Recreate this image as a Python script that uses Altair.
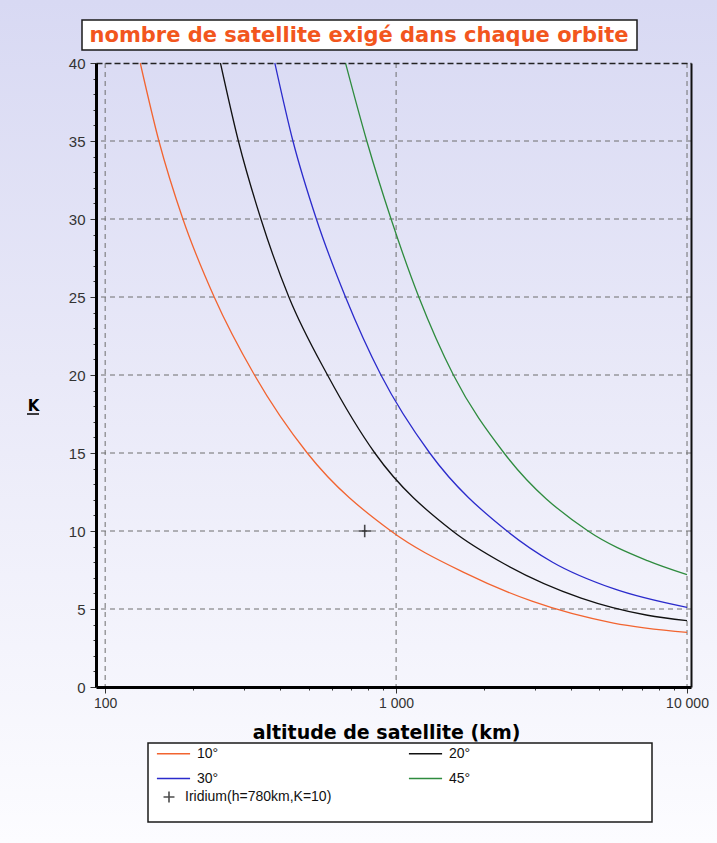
import altair as alt
import pandas as pd

# ---- data ----
series_labels = ["10°", "20°", "30°", "45°"]
series_colors = ["#f26430", "#111111", "#2b2bcc", "#2e8b3e"]

alt_10 = [132, 153, 185, 237, 326, 495, 960, 1730, 2930, 5590, 10000]
k_10 = [40, 35, 30, 25, 20, 15, 10, 7.3, 5.5, 4.1, 3.5]

alt_20 = [249, 287, 343, 428, 581, 845, 1563, 2350, 4325, 7310, 10000]
k_20 = [40, 35, 30, 25, 20, 15, 10, 7.9, 5.7, 4.6, 4.25]

alt_30 = [383, 442, 532, 670, 887, 1305, 2405, 3450, 5590, 10000]
k_30 = [40, 35, 30, 25, 20, 15, 10, 8.0, 6.3, 5.1]

alt_45 = [670, 793, 961, 1197, 1574, 2350, 4570, 7310, 10000]
k_45 = [40, 35, 30, 25, 20, 15, 10, 8.1, 7.2]

iridium_alt = [780]
iridium_k = [10]
iridium_label = ["Iridium(h=780km,K=10)"]

x_grid = [100, 1000, 10000]
y_grid = [5, 10, 15, 20, 25, 30, 35]
x_ticks = [100, 200, 300, 400, 500, 600, 700, 800, 900,
           1000, 2000, 3000, 4000, 5000, 6000, 7000, 8000, 9000, 10000]
y_ticks = list(range(0, 41))

chart_title = ["nombre de satellite  exigé dans chaque orbite"]
x_title = "altitude de satellite (km)"
y_title = "K"

# legend order (column-major grid of 2 columns -> rows: 10°,20° / 30°,45°)
legend_order = ["10°", "30°", "20°", "45°"]
legend_colors = [series_colors[series_labels.index(s)] for s in legend_order]

# ---- tables ----
rows = []
for lab, xs, ys in zip(series_labels, [alt_10, alt_20, alt_30, alt_45], [k_10, k_20, k_30, k_45]):
    for i, (x, y) in enumerate(zip(xs, ys)):
        rows.append({"serie": lab, "alt": x, "k": y, "ord": i})
df = pd.DataFrame(rows)
df_ir = pd.DataFrame({"alt": iridium_alt, "k": iridium_k, "lab": iridium_label})
df_xg = pd.DataFrame({"v": x_grid})
df_yg = pd.DataFrame({"v": y_grid})
one = pd.DataFrame({"a": [0]})
df_title = pd.DataFrame({"t": chart_title})

W, H = 595, 624
xscale = alt.Scale(type="log", domain=[93, 10320], nice=False)
yscale = alt.Scale(domain=[0, 40], nice=False)

FONT = "Liberation Sans"
BOLD = "DejaVu Sans"

# background gradient over whole canvas
bg = alt.Chart(one).mark_rect(
    color=alt.LinearGradient(
        gradient="linear",
        stops=[alt.GradientStop(color="#d8d9f3", offset=0),
               alt.GradientStop(color="#e9e9f8", offset=0.45),
               alt.GradientStop(color="#fcfcff", offset=1)],
        x1=0, x2=0, y1=0, y2=1),
).encode(x=alt.value(-96), x2=alt.value(621), y=alt.value(-63), y2=alt.value(780))

# horizontal grid + right border axis
hgrid = alt.Chart(df_yg).mark_rule(color="#6e6e6e", strokeDash=[5, 4], strokeWidth=1).encode(
    y=alt.Y("v:Q", scale=yscale,
            axis=alt.Axis(orient="right", labels=False, ticks=False, grid=False, title=None,
                          domainColor="#111111", domainWidth=2, zindex=1))
)

# vertical grid + top dashed border axis
vgrid = alt.Chart(df_xg).mark_rule(color="#6e6e6e", strokeDash=[5, 4], strokeWidth=1).encode(
    x=alt.X("v:Q", scale=xscale,
            axis=alt.Axis(orient="top", labels=False, ticks=False, grid=False, title=None,
                          domainColor="#222222", domainWidth=1.5, domainDash=[6, 3], zindex=1))
)

x_axis = alt.Axis(
    orient="bottom", values=x_ticks, grid=False, zindex=1,
    labelExpr="datum.value == 100 ? '100' : datum.value == 1000 ? '1 000' : datum.value == 10000 ? '10 000' : ''",
    labelOverlap=False, labelFlush=False, labelFont=FONT, labelFontSize=14, labelColor="#333333",
    labelPadding=3,
    tickSize={"condition": {"test": "datum.value == 100 || datum.value == 1000 || datum.value == 10000", "value": 6}, "value": 3},
    tickColor="#333333",
    domainColor="#000000", domainWidth=3,
    title=x_title, titleFont=BOLD, titleFontSize=19, titleFontWeight="bold", titleColor="#000000",
    titleBaseline="middle", titleY=45, titleX=290,
)
y_axis = alt.Axis(
    orient="left", values=y_ticks, grid=False, zindex=1,
    labelExpr="datum.value % 5 == 0 ? datum.label : ''",
    labelFont=FONT, labelFontSize=15, labelColor="#333333", labelPadding=5,
    tickSize={"condition": {"test": "datum.value % 5 == 0", "value": 6}, "value": 3},
    tickColor="#333333",
    domainColor="#000000", domainWidth=3,
    title=y_title, titleFont=BOLD, titleFontSize=15, titleFontWeight="bold", titleColor="#000000",
    titleAngle=0, titleX=-63, titleY=342, titleAlign="center", titleBaseline="middle",
)

lines = alt.Chart(df).mark_line(strokeWidth=1.3, interpolate="monotone").encode(
    x=alt.X("alt:Q", scale=xscale, axis=x_axis),
    y=alt.Y("k:Q", scale=yscale, axis=y_axis),
    color=alt.Color("serie:N", scale=alt.Scale(domain=legend_order, range=legend_colors),
                    legend=alt.Legend(orient="none", legendX=60, legendY=673, columns=2,
                                      columnPadding=186, rowPadding=-8, padding=0,
                                      symbolType="stroke", symbolSize=1100, symbolStrokeWidth=1.5,
                                      labelFont=FONT, labelFontSize=14, labelColor="#111111",
                                      labelOffset=6, title=None)),
    order="ord:Q",
)

cross = "M-1,0L1,0M0,-1L0,1"
iridium = alt.Chart(df_ir).mark_point(filled=False, color="#000000", strokeWidth=1.6, size=160).encode(
    x=alt.X("alt:Q", scale=xscale, axis=None),
    y=alt.Y("k:Q", scale=yscale, axis=None),
    shape=alt.Shape("lab:N", scale=alt.Scale(domain=iridium_label, range=[cross]),
                    legend=alt.Legend(orient="none", legendX=66, legendY=727, padding=0,
                                      symbolStrokeColor="#000000", symbolStrokeWidth=1.6,
                                      symbolSize=120, symbolFillColor="transparent",
                                      labelFont=FONT, labelFontSize=14, labelColor="#111111",
                                      labelOffset=9, title=None)),
)

title_box = alt.Chart(one).mark_rect(fill="#ffffff", stroke="#1a1a1a", strokeWidth=1.5).encode(
    x=alt.value(-14), x2=alt.value(541), y=alt.value(-43), y2=alt.value(-13))
title_txt = alt.Chart(df_title).mark_text(
    font=BOLD, fontSize=21, fontWeight="bold", color="#f2561d", align="center", baseline="middle"
).encode(text="t:N", x=alt.value(263), y=alt.value(-27))

k_underline = alt.Chart(one).mark_rule(color="#000000", strokeWidth=1.5).encode(
    x=alt.value(-69), x2=alt.value(-57), y=alt.value(351))

legend_box = alt.Chart(one).mark_rect(fill="#ffffff", stroke="#1a1a1a", strokeWidth=1.5).encode(
    x=alt.value(52), x2=alt.value(556), y=alt.value(680), y2=alt.value(759))

chart = alt.layer(
    bg, legend_box, title_box, title_txt, k_underline, hgrid, vgrid, lines, iridium
).resolve_axis(x="independent", y="independent").properties(
    width=W, height=H,
    autosize=alt.AutoSizeParams(type="none"),
    padding={"left": 96, "top": 63, "right": 26, "bottom": 156},
    background="#ebebf9",
).configure_view(stroke=None).configure_legend(zindex=2)

chart.save("out.html", embed_options={"renderer": "svg", "actions": False})
